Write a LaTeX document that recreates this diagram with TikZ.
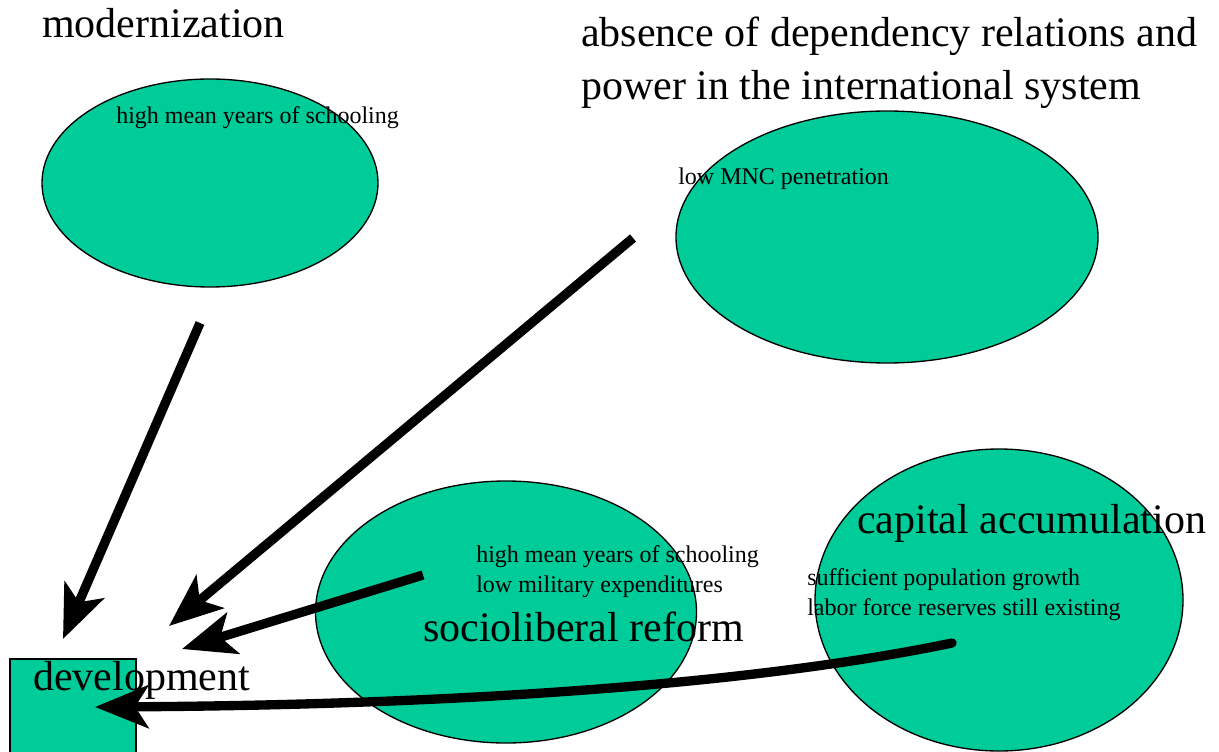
\documentclass[tikz,border=0pt]{standalone}
\usepackage{fontspec}
\setmainfont{Liberation Serif}
\usetikzlibrary{shapes.geometric,arrows.meta}
\definecolor{blobgreen}{RGB}{0,204,153}
\newcommand{\bigtxt}{\fontsize{31.5}{39.75}\selectfont}
\newcommand{\smalltxt}{\fontsize{18}{22.5}\selectfont}

\begin{document}
\begin{tikzpicture}
  [x=0.75pt,y=-0.75pt,
   blob/.style={ellipse,draw,line width=1pt,fill=blobgreen,inner sep=0pt},
   lbl/.style={anchor=base west,inner sep=0pt,align=left},
   arr/.style={line width=7pt,-{Stealth[length=40pt,width=32pt,inset=10pt]}}]

  \useasboundingbox (0,0) rectangle (1219,752);

  \node[blob,minimum width=252pt,minimum height=156pt] (modern) at (210,183) {};
  \node[blob,minimum width=316.5pt,minimum height=189pt] (depend) at (887,237) {};
  \node[blob,minimum width=285.75pt,minimum height=196.5pt] (socio) at (506,612) {};
  \node[blob,minimum width=276pt,minimum height=226.5pt] (capital) at (999,600) {};
  \node[draw,line width=1pt,fill=blobgreen,minimum width=94.5pt,minimum height=90pt] (devel) at (73,719) {};

  \node[lbl,font=\bigtxt] (modtitle) at (42,38) {modernization};
  \node[lbl,font=\smalltxt] (modtext) at (116,124) {high mean years of schooling};
  \node[lbl,font=\bigtxt] (deptitle) at (581,100) {absence of dependency relations and\\power in the international system};
  \node[lbl,font=\smalltxt] (deptext) at (678,185) {low MNC penetration};
  \node[lbl,font=\smalltxt] (socitext) at (476,592) {high mean years of schooling\\low military expenditures};
  \node[lbl,font=\bigtxt] (socititle) at (423,641) {socioliberal reform};
  \node[lbl,font=\bigtxt] (captitle) at (857,533) {capital accumulation};
  \node[lbl,font=\smalltxt] (captext) at (807,615) {sufficient population growth\\labor force reserves still existing};
  \node[lbl,font=\bigtxt] (develtitle) at (33,690) {development};

  \coordinate (m-out) at (200,323);
  \coordinate (d-out) at (633,238);
  \coordinate (s-out) at (423,575);
  \coordinate (c-out) at (952,643);
  \coordinate (m-in) at (63,639);
  \coordinate (d-in) at (169,626);
  \coordinate (s-in) at (182,649);
  \coordinate (c-in) at (95,707);

  \foreach \from/\to in {m-out/m-in,d-out/d-in,s-out/s-in}
    \draw[arr] (\from) -- (\to);
  \draw[arr,line cap=round] (c-out) .. controls (750,685) and (450,705) .. (c-in);
\end{tikzpicture}
\end{document}
